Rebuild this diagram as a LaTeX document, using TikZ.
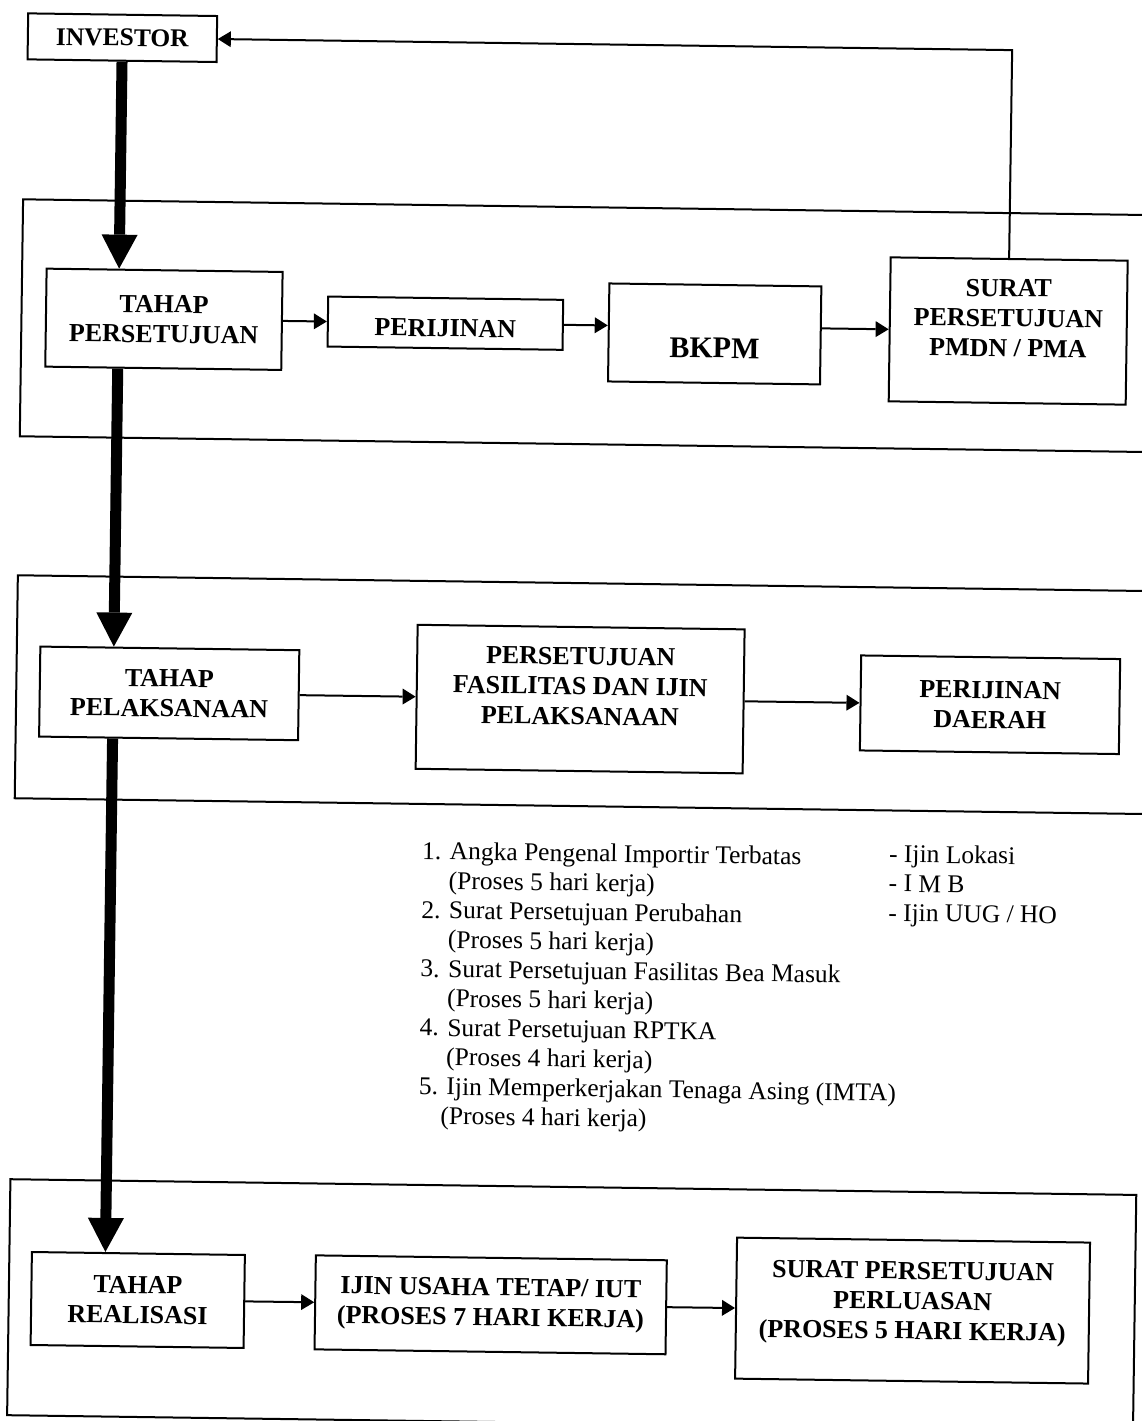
\documentclass[tikz,border=0pt]{standalone}
\usepackage{fontspec}
\setmainfont{Liberation Serif}
\usetikzlibrary{arrows.meta,positioning}

\tikzset{
  stage/.style={draw, line width=2pt, align=center, inner sep=2pt,
    font=\fontsize{26}{30}\selectfont\bfseries},
  flow/.style={line width=2pt, -{Triangle[length=13pt,width=16pt,line width=0pt]}},
  bigflow/.style={line width=11pt, -{Triangle[length=34pt,width=36pt,line width=0pt]}},
  panel/.style={line width=2pt},
  note/.style={align=left, inner sep=0pt, anchor=north west,
    font=\fontsize{25.5}{29.4}\selectfont}
}

\begin{document}
\begin{tikzpicture}[x=1pt, y=-1pt]
  \useasboundingbox (0,0) rectangle (1142,1421);
  \begin{scope}[rotate around={-0.8:(571,710)}, transform shape]
    % frames of the three stages
    \draw[panel] (1200,207) -- (16,207) -- (16,444) -- (1200,444);
    \draw[panel] (1200,583) -- (16,583) -- (16,806) -- (1200,806);
    \draw[panel] (17,1187) rectangle (1143,1423);

    \node[stage, minimum width=189pt, minimum height=46pt,
      font=\fontsize{25.5}{30}\selectfont\bfseries] (inv) at (113,44) {INVESTOR};

    % tahap persetujuan
    \node[stage, minimum width=236pt, minimum height=98pt] (tp) at (158.5,325) {TAHAP\\PERSETUJUAN};
    \node[stage, minimum width=235pt, minimum height=50pt, right=44pt of tp,
      text height=27pt, text depth=0pt] (per) {PERIJINAN};
    \node[stage, minimum width=212pt, minimum height=98pt, right=44pt of per, yshift=-7pt,
      font=\fontsize{30}{36}\selectfont\bfseries, text height=48pt, text depth=0pt] (bkpm) {BKPM};
    \node[stage, minimum width=237pt, minimum height=144pt, right=67pt of bkpm, yshift=7pt] (spm)
      {SURAT\\PERSETUJUAN\\PMDN / PMA\\[-4pt]\mbox{}};
    \coordinate (fb) at (1003,44);

    % tahap pelaksanaan
    \node[stage, minimum width=259pt, minimum height=90pt] (tpel) at (169,699) {TAHAP\\PELAKSANAAN};
    \node[stage, minimum width=327pt, minimum height=144pt, right=116pt of tpel] (pfas)
      {PERSETUJUAN\\FASILITAS DAN IJIN\\PELAKSANAAN\\[-4pt]\mbox{}};
    \node[stage, minimum width=259pt, minimum height=95pt, right=115pt of pfas] (pdaerah) {PERIJINAN\\DAERAH};

    \node[note] (izin) at (424,843.5) {1. Angka Pengenal Importir Terbatas\\
      \hspace*{27pt}(Proses 5 hari kerja)\\
      2. Surat Persetujuan Perubahan\\
      \hspace*{27pt}(Proses 5 hari kerja)\\
      3. Surat Persetujuan Fasilitas Bea Masuk\\
      \hspace*{27pt}(Proses 5 hari kerja)\\
      4. Surat Persetujuan RPTKA\\
      \hspace*{27pt}(Proses 4 hari kerja)\\
      5. Ijin Memperkerjakan Tenaga Asing (IMTA)\\
      \hspace*{22pt}(Proses 4 hari kerja)};
    \node[note] (daerah) at (891,840) {- Ijin Lokasi\\- I M B\\- Ijin UUG / HO};

    % tahap realisasi
    \node[stage, minimum width=213pt, minimum height=93pt] (treal) at (146,1306) {TAHAP\\REALISASI};
    \node[stage, minimum width=351pt, minimum height=94pt, right=69pt of treal] (iut)
      {IJIN USAHA TETAP/ IUT\\(PROSES 7 HARI KERJA)};
    \node[stage, minimum width=353pt, minimum height=141pt, right=68pt of iut] (spp)
      {SURAT PERSETUJUAN\\PERLUASAN\\(PROSES 5 HARI KERJA)\\[-10pt]\mbox{}};

    \draw[bigflow] (inv.south) -- ([xshift=73.5pt]tp.north west);
    \draw[bigflow] ([xshift=73.5pt]tp.south west) -- ([xshift=74.5pt]tpel.north west);
    \draw[bigflow] ([xshift=74.5pt]tpel.south west) -- ([xshift=74.5pt]treal.north west);

    \draw[flow] (tp.east) -- (per.west);
    \draw[flow] (per.east) -- (per.east -| bkpm.west);
    \draw[flow] (bkpm.east |- spm.west) -- (spm.west);
    \draw[flow] (spm.north) -- (fb) -- (inv.east);
    \draw[flow] (tpel.east) -- (pfas.west);
    \draw[flow] (pfas.east) -- (pdaerah.west);
    \draw[flow] (treal.east) -- (iut.west);
    \draw[flow] (iut.east) -- (spp.west);
  \end{scope}
\end{tikzpicture}
\end{document}
